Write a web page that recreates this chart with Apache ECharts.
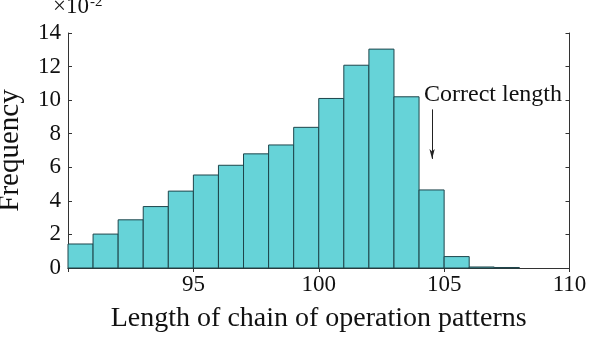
<!DOCTYPE html>
<html>
<head>
<meta charset="utf-8">
<script src="https://cdn.jsdelivr.net/npm/echarts@6/dist/echarts.min.js"></script>
<style>
  html, body { margin: 0; padding: 0; background: #fff; }
  #main { width: 590px; height: 340px; }
</style>
</head>
<body>
<div id="main"></div>
<script>
// histogram bins (left edges) and frequency, in units of 10^-2
var binStart = [90, 91, 92, 93, 94, 95, 96, 97, 98, 99, 100, 101, 102, 103, 104, 105, 106, 107];
var frequency = [1.43, 2.02, 2.87, 3.66, 4.58, 5.54, 6.12, 6.8, 7.33, 8.38, 10.1, 12.08, 13.04, 10.2, 4.65, 0.68, 0.06, 0.03];
var binWidth = 1;
var xTicks = [90, 95, 100, 105, 110];
var yTicks = [0, 2, 4, 6, 8, 10, 12, 14];

var font = '"Liberation Serif", "DejaVu Serif", serif';
var barFill = '#66D3D8';
var barEdge = '#1E454B';
var frame = '#333';

var histData = binStart.map(function (s, i) {
  return [s, s + binWidth, frequency[i]];
});

var chart = echarts.init(document.getElementById('main'), null, { renderer: 'canvas' });

var tickStyle = { show: true, inside: true, length: 4, lineStyle: { color: frame, width: 1 } };

chart.setOption({
  animation: false,
  grid: { left: 68, right: 20.5, top: 33, bottom: 72, outerBoundsMode: 'none', containLabel: false },
  graphic: [
    { type: 'text', left: 53, top: -5, style: { text: '×10', font: '23px ' + font, fill: '#111' } },
    { type: 'text', left: 90, top: -5, style: { text: '-2', font: '15px ' + font, fill: '#111' } }
  ],
  xAxis: [{
    type: 'value',
    min: xTicks[0],
    max: xTicks[xTicks.length - 1],
    interval: 5,
    name: 'Length of chain of operation patterns',
    nameLocation: 'middle',
    nameGap: 37,
    nameTextStyle: { fontFamily: font, fontSize: 28, color: '#111' },
    axisLine: { show: true, lineStyle: { color: frame, width: 1 } },
    axisTick: tickStyle,
    splitLine: { show: false },
    axisLabel: {
      margin: 5, fontFamily: font, fontSize: 23, color: '#111',
      formatter: function (v) { return v === xTicks[0] ? '' : String(v); }
    }
  }, {
    type: 'value',
    position: 'top',
    min: xTicks[0],
    max: xTicks[xTicks.length - 1],
    interval: 5,
    axisLine: { show: true, lineStyle: { color: frame, width: 1 } },
    axisTick: tickStyle,
    axisLabel: { show: false },
    splitLine: { show: false }
  }],
  yAxis: [{
    type: 'value',
    min: yTicks[0],
    max: yTicks[yTicks.length - 1],
    interval: 2,
    name: 'Frequency',
    nameLocation: 'middle',
    nameGap: 43,
    nameTextStyle: { fontFamily: font, fontSize: 29, color: '#111' },
    axisLine: { show: true, lineStyle: { color: frame, width: 1 } },
    axisTick: tickStyle,
    splitLine: { show: false },
    axisLabel: { margin: 7, fontFamily: font, fontSize: 23, color: '#111' }
  }, {
    type: 'value',
    position: 'right',
    min: yTicks[0],
    max: yTicks[yTicks.length - 1],
    interval: 2,
    axisLine: { show: true, lineStyle: { color: frame, width: 1 } },
    axisTick: tickStyle,
    axisLabel: { show: false },
    splitLine: { show: false }
  }],
  series: [{
    type: 'custom',
    xAxisIndex: 0,
    yAxisIndex: 0,
    data: histData,
    encode: { x: [0, 1], y: 2 },
    renderItem: function (params, api) {
      var topLeft = api.coord([api.value(0), api.value(2)]);
      var bottomRight = api.coord([api.value(1), 0]);
      return {
        type: 'rect',
        shape: {
          x: topLeft[0],
          y: topLeft[1],
          width: bottomRight[0] - topLeft[0],
          height: bottomRight[1] - topLeft[1]
        },
        style: { fill: barFill, stroke: barEdge, lineWidth: 1 }
      };
    },
    markLine: {
      silent: true,
      symbol: ['none', 'arrow'],
      symbolSize: [4, 10],
      lineStyle: { color: '#222', width: 1, type: 'solid' },
      label: { show: false },
      data: [[{ coord: [104.52, 9.45] }, { coord: [104.52, 6.5] }]]
    },
    markPoint: {
      silent: true,
      symbol: 'circle',
      symbolSize: 0,
      label: {
        show: true,
        position: 'right',
        distance: 0,
        fontFamily: font,
        fontSize: 24,
        color: '#111',
        formatter: 'Correct length'
      },
      data: [{ coord: [104.2, 10.3] }]
    }
  }]
});
</script>
</body>
</html>
